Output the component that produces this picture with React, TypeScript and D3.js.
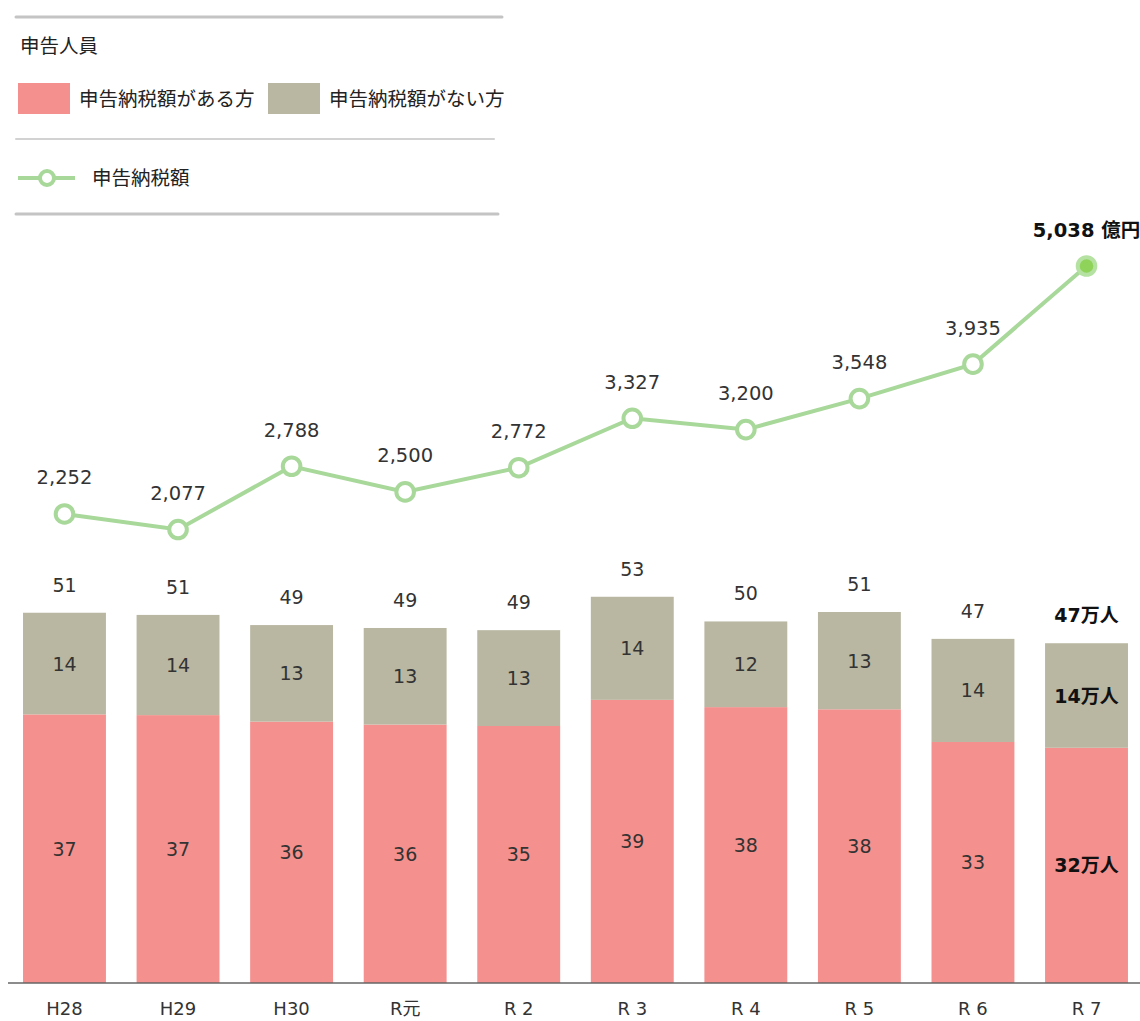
import { useEffect, useRef } from 'react';
import * as d3 from 'd3';

// 年度
const years = ["H28", "H29", "H30", "R元", "R 2", "R 3", "R 4", "R 5", "R 6", "R 7"];
// 申告納税額がある方（万人）
const taxedPeople = [37.0, 36.9, 36.0, 35.6, 35.4, 39.0, 38.0, 37.7, 33.2, 32.4];
// 申告納税額がない方（万人）
const untaxedPeople = [14.0, 13.8, 13.3, 13.3, 13.2, 14.2, 11.8, 13.4, 14.2, 14.4];
// 申告納税額（億円）
const taxAmount = [2252, 2077, 2788, 2500, 2772, 3327, 3200, 3548, 3935, 5038];

const RED = "#f4908d";
const GRAY = "#b9b7a1";
const GREEN = "#a8d89a";
const FONT = "'DejaVu Sans', 'Noto Sans CJK JP', sans-serif";

const App = () => {
  const svgRef = useRef<SVGSVGElement>(null);
  const width = 1140;
  const height = 1021;

  useEffect(() => {
    const svg = d3.select(svgRef.current);
    svg.selectAll("*").remove();

    const x = d3.scaleBand()
      .domain(years)
      .range([7.7, 1143.3])
      .paddingInner(0.27)
      .paddingOuter(0.135);

    const yBar = d3.scaleLinear().domain([0, 60]).range([983, 547.4]);
    const yLine = d3.scaleLinear().domain([0, 5038]).range([714.4, 266]);
    const cx = (d: string) => (x(d) ?? 0) + x.bandwidth() / 2;
    const last = years.length - 1;

    // legend
    const lg = svg.append("g").attr("font-family", FONT).attr("font-size", 19.5).attr("fill", "#222");
    const hr = [
      { y: 17, x2: 502, w: 3, c: "#c4c4c4" },
      { y: 139, x2: 494, w: 2, c: "#d2d2d2" },
      { y: 214, x2: 498, w: 3, c: "#c4c4c4" },
    ];
    hr.forEach(h => {
      lg.append("line").attr("x1", 16).attr("x2", h.x2).attr("y1", h.y).attr("y2", h.y)
        .attr("stroke", h.c).attr("stroke-width", h.w).attr("stroke-linecap", "round");
    });
    lg.append("text").attr("x", 20).attr("y", 46).attr("dominant-baseline", "central").text("申告人員");
    lg.append("rect").attr("x", 18).attr("y", 83).attr("width", 52).attr("height", 31).attr("fill", RED);
    lg.append("text").attr("x", 79).attr("y", 99).attr("dominant-baseline", "central").text("申告納税額がある方");
    lg.append("rect").attr("x", 268).attr("y", 83).attr("width", 52).attr("height", 31).attr("fill", GRAY);
    lg.append("text").attr("x", 329).attr("y", 99).attr("dominant-baseline", "central").text("申告納税額がない方");
    lg.append("line").attr("x1", 18).attr("x2", 75).attr("y1", 178).attr("y2", 178)
      .attr("stroke", GREEN).attr("stroke-width", 4);
    lg.append("circle").attr("cx", 47).attr("cy", 178).attr("r", 7)
      .attr("fill", "#fff").attr("stroke", GREEN).attr("stroke-width", 4);
    lg.append("text").attr("x", 92).attr("y", 178).attr("dominant-baseline", "central").text("申告納税額");

    // stacked bars
    const g = svg.append("g");
    years.forEach((yr, i) => {
      const red = taxedPeople[i];
      const gray = untaxedPeople[i];
      g.append("rect").attr("x", x(yr)!).attr("width", x.bandwidth())
        .attr("y", yBar(red)).attr("height", yBar(0) - yBar(red)).attr("fill", RED);
      g.append("rect").attr("x", x(yr)!).attr("width", x.bandwidth())
        .attr("y", yBar(red + gray)).attr("height", yBar(red) - yBar(red + gray)).attr("fill", GRAY);
    });

    // bar labels
    const bl = svg.append("g").attr("font-family", FONT).attr("font-size", 19)
      .attr("text-anchor", "middle").attr("dominant-baseline", "central");
    years.forEach((yr, i) => {
      const red = taxedPeople[i];
      const gray = untaxedPeople[i];
      const total = red + gray;
      const isLast = i === last;
      const suffix = isLast ? "万人" : "";
      const weight = isLast ? "bold" : "normal";
      const color = isLast ? "#111" : "#333";
      bl.append("text").attr("x", cx(yr)).attr("y", (yBar(0) + yBar(red)) / 2)
        .attr("font-weight", weight).attr("fill", color).text(`${Math.round(red)}${suffix}`);
      bl.append("text").attr("x", cx(yr)).attr("y", (yBar(red) + yBar(total)) / 2)
        .attr("font-weight", weight).attr("fill", color).text(`${Math.round(gray)}${suffix}`);
      bl.append("text").attr("x", cx(yr)).attr("y", yBar(total) - 28)
        .attr("font-weight", weight).attr("fill", color).text(`${Math.round(total)}${suffix}`);
    });

    // x axis
    svg.append("line").attr("x1", 8).attr("x2", 1140).attr("y1", 983).attr("y2", 983)
      .attr("stroke", "#666").attr("stroke-width", 1.5);
    svg.append("g").attr("font-family", FONT).attr("font-size", 18).attr("fill", "#333")
      .attr("text-anchor", "middle").attr("dominant-baseline", "central")
      .selectAll("text").data(years).enter().append("text")
      .attr("x", d => cx(d)).attr("y", 1008).text(d => d);

    // line
    const line = d3.line<number>().x((d, i) => cx(years[i])).y(d => yLine(d));
    svg.append("path").datum(taxAmount).attr("d", line).attr("fill", "none")
      .attr("stroke", GREEN).attr("stroke-width", 4);
    svg.append("g").selectAll("circle").data(taxAmount).enter().append("circle")
      .attr("cx", (d, i) => cx(years[i])).attr("cy", d => yLine(d)).attr("r", 8.8)
      .attr("fill", (d, i) => i === last ? "#8fd35a" : "#fff")
      .attr("stroke", (d, i) => i === last ? "#b5e2a2" : GREEN).attr("stroke-width", 4);

    const fmt = d3.format(",");
    svg.append("g").attr("font-family", FONT).attr("font-size", 19.5)
      .attr("text-anchor", "middle").attr("dominant-baseline", "central")
      .selectAll("text").data(taxAmount).enter().append("text")
      .attr("x", (d, i) => cx(years[i])).attr("y", d => yLine(d) - 36)
      .attr("font-weight", (d, i) => i === last ? "bold" : "normal")
      .attr("fill", (d, i) => i === last ? "#111" : "#333")
      .text((d, i) => i === last ? `${fmt(d)} 億円` : fmt(d));
  }, []);

  return (
    <>
      <style>{"body{margin:0}"}</style>
      <svg ref={svgRef} width={width} height={height} style={{ display: "block" }} />
    </>
  );
};

export default App;
